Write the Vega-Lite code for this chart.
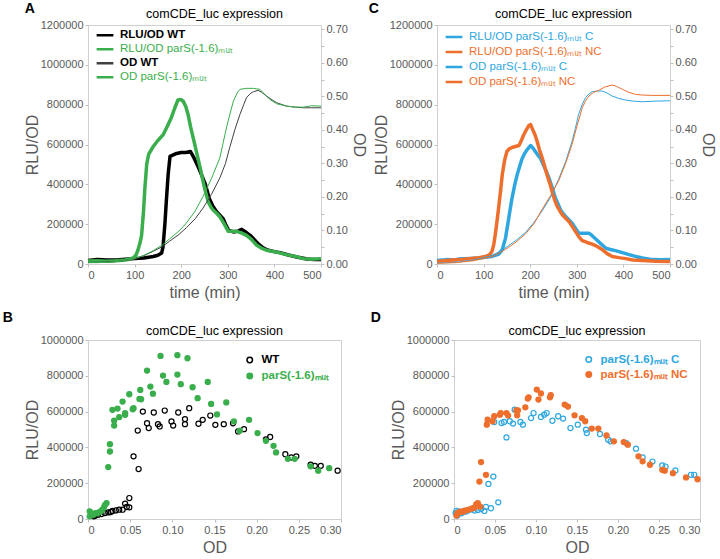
{
  "$schema": "https://vega.github.io/schema/vega-lite/v6.json",
  "padding": {"left": 2, "top": 2, "right": 0, "bottom": 2},
  "config": {
    "font": "Liberation Sans",
    "view": {"stroke": "#d0d0d0", "strokeWidth": 1},
    "axis": {"grid": false, "domain": false, "labelColor": "#595959", "labelFontSize": 11, "titleColor": "#595959", "titleFontSize": 16, "titleFontWeight": "normal", "tickColor": "#bfbfbf", "tickSize": 3, "labelPadding": 2, "titlePadding": 4},
    "axisLeft": {"titlePadding": 0},
    "axisRight": {"titlePadding": 3},
    "title": {"fontSize": 12.5, "fontWeight": "normal", "color": "#000000", "offset": -1, "frame": "group"},
    "legend": {"padding": 0, "title": null, "labelFontSize": 11.5}
  },
  "resolve": {"scale": {"color": "independent", "stroke": "independent", "fill": "independent"}, "legend": {"color": "independent", "stroke": "independent", "fill": "independent"}},
  "datasets": {
    "aR": [
      {"s": "RLU/OD  WT", "t": 0, "v": 18000}, {"s": "RLU/OD  WT", "t": 20, "v": 22000}, {"s": "RLU/OD  WT", "t": 40, "v": 20000}, {"s": "RLU/OD  WT", "t": 60, "v": 20000}, {"s": "RLU/OD  WT", "t": 80, "v": 24000}, {"s": "RLU/OD  WT", "t": 100, "v": 27000}, {"s": "RLU/OD  WT", "t": 120, "v": 30000}, {"s": "RLU/OD  WT", "t": 140, "v": 38000}, {"s": "RLU/OD  WT", "t": 150, "v": 44000}, {"s": "RLU/OD  WT", "t": 158, "v": 55000}, {"s": "RLU/OD  WT", "t": 161, "v": 86000}, {"s": "RLU/OD  WT", "t": 165, "v": 200000}, {"s": "RLU/OD  WT", "t": 168, "v": 312000}, {"s": "RLU/OD  WT", "t": 172, "v": 450000}, {"s": "RLU/OD  WT", "t": 176, "v": 540000}, {"s": "RLU/OD  WT", "t": 190, "v": 555000}, {"s": "RLU/OD  WT", "t": 200, "v": 560000}, {"s": "RLU/OD  WT", "t": 210, "v": 560000}, {"s": "RLU/OD  WT", "t": 220, "v": 565000}, {"s": "RLU/OD  WT", "t": 228, "v": 530000}, {"s": "RLU/OD  WT", "t": 235, "v": 495000}, {"s": "RLU/OD  WT", "t": 245, "v": 440000}, {"s": "RLU/OD  WT", "t": 252, "v": 400000}, {"s": "RLU/OD  WT", "t": 260, "v": 330000}, {"s": "RLU/OD  WT", "t": 268, "v": 290000}, {"s": "RLU/OD  WT", "t": 276, "v": 262000}, {"s": "RLU/OD  WT", "t": 283, "v": 245000}, {"s": "RLU/OD  WT", "t": 290, "v": 228000}, {"s": "RLU/OD  WT", "t": 296, "v": 195000}, {"s": "RLU/OD  WT", "t": 302, "v": 168000}, {"s": "RLU/OD  WT", "t": 312, "v": 161000}, {"s": "RLU/OD  WT", "t": 322, "v": 165000}, {"s": "RLU/OD  WT", "t": 330, "v": 174000}, {"s": "RLU/OD  WT", "t": 340, "v": 158000}, {"s": "RLU/OD  WT", "t": 348, "v": 144000}, {"s": "RLU/OD  WT", "t": 358, "v": 120000}, {"s": "RLU/OD  WT", "t": 366, "v": 100000}, {"s": "RLU/OD  WT", "t": 375, "v": 82000}, {"s": "RLU/OD  WT", "t": 385, "v": 70000}, {"s": "RLU/OD  WT", "t": 400, "v": 62000}, {"s": "RLU/OD  WT", "t": 412, "v": 57000}, {"s": "RLU/OD  WT", "t": 430, "v": 45000}, {"s": "RLU/OD  WT", "t": 448, "v": 35000}, {"s": "RLU/OD  WT", "t": 470, "v": 25000}, {"s": "RLU/OD  WT", "t": 485, "v": 22000}, {"s": "RLU/OD  WT", "t": 500, "v": 23000},
      {"s": "RLU/OD  parS(-1.6)ₘᵤₜ", "t": 0, "v": 15000}, {"s": "RLU/OD  parS(-1.6)ₘᵤₜ", "t": 20, "v": 16000}, {"s": "RLU/OD  parS(-1.6)ₘᵤₜ", "t": 40, "v": 14000}, {"s": "RLU/OD  parS(-1.6)ₘᵤₜ", "t": 60, "v": 16000}, {"s": "RLU/OD  parS(-1.6)ₘᵤₜ", "t": 80, "v": 20000}, {"s": "RLU/OD  parS(-1.6)ₘᵤₜ", "t": 90, "v": 25000}, {"s": "RLU/OD  parS(-1.6)ₘᵤₜ", "t": 97, "v": 30000}, {"s": "RLU/OD  parS(-1.6)ₘᵤₜ", "t": 103, "v": 45000}, {"s": "RLU/OD  parS(-1.6)ₘᵤₜ", "t": 107, "v": 69000}, {"s": "RLU/OD  parS(-1.6)ₘᵤₜ", "t": 111, "v": 100000}, {"s": "RLU/OD  parS(-1.6)ₘᵤₜ", "t": 115, "v": 144000}, {"s": "RLU/OD  parS(-1.6)ₘᵤₜ", "t": 119, "v": 260000}, {"s": "RLU/OD  parS(-1.6)ₘᵤₜ", "t": 122, "v": 379000}, {"s": "RLU/OD  parS(-1.6)ₘᵤₜ", "t": 126, "v": 500000}, {"s": "RLU/OD  parS(-1.6)ₘᵤₜ", "t": 130, "v": 550000}, {"s": "RLU/OD  parS(-1.6)ₘᵤₜ", "t": 140, "v": 590000}, {"s": "RLU/OD  parS(-1.6)ₘᵤₜ", "t": 150, "v": 620000}, {"s": "RLU/OD  parS(-1.6)ₘᵤₜ", "t": 161, "v": 648000}, {"s": "RLU/OD  parS(-1.6)ₘᵤₜ", "t": 170, "v": 690000}, {"s": "RLU/OD  parS(-1.6)ₘᵤₜ", "t": 178, "v": 730000}, {"s": "RLU/OD  parS(-1.6)ₘᵤₜ", "t": 186, "v": 782000}, {"s": "RLU/OD  parS(-1.6)ₘᵤₜ", "t": 193, "v": 824000}, {"s": "RLU/OD  parS(-1.6)ₘᵤₜ", "t": 199, "v": 826000}, {"s": "RLU/OD  parS(-1.6)ₘᵤₜ", "t": 204, "v": 819000}, {"s": "RLU/OD  parS(-1.6)ₘᵤₜ", "t": 210, "v": 790000}, {"s": "RLU/OD  parS(-1.6)ₘᵤₜ", "t": 215, "v": 748000}, {"s": "RLU/OD  parS(-1.6)ₘᵤₜ", "t": 220, "v": 690000}, {"s": "RLU/OD  parS(-1.6)ₘᵤₜ", "t": 226, "v": 631000}, {"s": "RLU/OD  parS(-1.6)ₘᵤₜ", "t": 231, "v": 580000}, {"s": "RLU/OD  parS(-1.6)ₘᵤₜ", "t": 236, "v": 530000}, {"s": "RLU/OD  parS(-1.6)ₘᵤₜ", "t": 242, "v": 470000}, {"s": "RLU/OD  parS(-1.6)ₘᵤₜ", "t": 247, "v": 413000}, {"s": "RLU/OD  parS(-1.6)ₘᵤₜ", "t": 252, "v": 365000}, {"s": "RLU/OD  parS(-1.6)ₘᵤₜ", "t": 258, "v": 312000}, {"s": "RLU/OD  parS(-1.6)ₘᵤₜ", "t": 264, "v": 285000}, {"s": "RLU/OD  parS(-1.6)ₘᵤₜ", "t": 269, "v": 270000}, {"s": "RLU/OD  parS(-1.6)ₘᵤₜ", "t": 276, "v": 255000}, {"s": "RLU/OD  parS(-1.6)ₘᵤₜ", "t": 283, "v": 237000}, {"s": "RLU/OD  parS(-1.6)ₘᵤₜ", "t": 290, "v": 210000}, {"s": "RLU/OD  parS(-1.6)ₘᵤₜ", "t": 296, "v": 185000}, {"s": "RLU/OD  parS(-1.6)ₘᵤₜ", "t": 301, "v": 164000}, {"s": "RLU/OD  parS(-1.6)ₘᵤₜ", "t": 310, "v": 165000}, {"s": "RLU/OD  parS(-1.6)ₘᵤₜ", "t": 319, "v": 164000}, {"s": "RLU/OD  parS(-1.6)ₘᵤₜ", "t": 330, "v": 155000}, {"s": "RLU/OD  parS(-1.6)ₘᵤₜ", "t": 340, "v": 144000}, {"s": "RLU/OD  parS(-1.6)ₘᵤₜ", "t": 350, "v": 125000}, {"s": "RLU/OD  parS(-1.6)ₘᵤₜ", "t": 362, "v": 94000}, {"s": "RLU/OD  parS(-1.6)ₘᵤₜ", "t": 372, "v": 80000}, {"s": "RLU/OD  parS(-1.6)ₘᵤₜ", "t": 383, "v": 69000}, {"s": "RLU/OD  parS(-1.6)ₘᵤₜ", "t": 400, "v": 62000}, {"s": "RLU/OD  parS(-1.6)ₘᵤₜ", "t": 426, "v": 47000}, {"s": "RLU/OD  parS(-1.6)ₘᵤₜ", "t": 445, "v": 38000}, {"s": "RLU/OD  parS(-1.6)ₘᵤₜ", "t": 462, "v": 27000}, {"s": "RLU/OD  parS(-1.6)ₘᵤₜ", "t": 480, "v": 24000}, {"s": "RLU/OD  parS(-1.6)ₘᵤₜ", "t": 500, "v": 27000}
    ],
    "aO": [
      {"s": "OD  WT", "t": 0, "v": 0.005}, {"s": "OD  WT", "t": 20, "v": 0.005}, {"s": "OD  WT", "t": 40, "v": 0.006}, {"s": "OD  WT", "t": 68, "v": 0.008}, {"s": "OD  WT", "t": 100, "v": 0.015}, {"s": "OD  WT", "t": 120, "v": 0.025}, {"s": "OD  WT", "t": 140, "v": 0.038}, {"s": "OD  WT", "t": 160, "v": 0.052}, {"s": "OD  WT", "t": 175, "v": 0.068}, {"s": "OD  WT", "t": 195, "v": 0.088}, {"s": "OD  WT", "t": 211, "v": 0.108}, {"s": "OD  WT", "t": 230, "v": 0.135}, {"s": "OD  WT", "t": 247, "v": 0.167}, {"s": "OD  WT", "t": 265, "v": 0.208}, {"s": "OD  WT", "t": 283, "v": 0.257}, {"s": "OD  WT", "t": 295, "v": 0.3}, {"s": "OD  WT", "t": 304, "v": 0.347}, {"s": "OD  WT", "t": 315, "v": 0.4}, {"s": "OD  WT", "t": 326, "v": 0.446}, {"s": "OD  WT", "t": 334, "v": 0.475}, {"s": "OD  WT", "t": 340, "v": 0.496}, {"s": "OD  WT", "t": 348, "v": 0.508}, {"s": "OD  WT", "t": 355, "v": 0.514}, {"s": "OD  WT", "t": 365, "v": 0.518}, {"s": "OD  WT", "t": 372, "v": 0.513}, {"s": "OD  WT", "t": 383, "v": 0.501}, {"s": "OD  WT", "t": 395, "v": 0.49}, {"s": "OD  WT", "t": 405, "v": 0.481}, {"s": "OD  WT", "t": 426, "v": 0.471}, {"s": "OD  WT", "t": 445, "v": 0.468}, {"s": "OD  WT", "t": 462, "v": 0.466}, {"s": "OD  WT", "t": 480, "v": 0.466}, {"s": "OD  WT", "t": 500, "v": 0.466},
      {"s": "OD  parS(-1.6)ₘᵤₜ", "t": 0, "v": 0.004}, {"s": "OD  parS(-1.6)ₘᵤₜ", "t": 20, "v": 0.004}, {"s": "OD  parS(-1.6)ₘᵤₜ", "t": 40, "v": 0.005}, {"s": "OD  parS(-1.6)ₘᵤₜ", "t": 68, "v": 0.008}, {"s": "OD  parS(-1.6)ₘᵤₜ", "t": 100, "v": 0.016}, {"s": "OD  parS(-1.6)ₘᵤₜ", "t": 120, "v": 0.026}, {"s": "OD  parS(-1.6)ₘᵤₜ", "t": 140, "v": 0.04}, {"s": "OD  parS(-1.6)ₘᵤₜ", "t": 160, "v": 0.057}, {"s": "OD  parS(-1.6)ₘᵤₜ", "t": 175, "v": 0.075}, {"s": "OD  parS(-1.6)ₘᵤₜ", "t": 195, "v": 0.098}, {"s": "OD  parS(-1.6)ₘᵤₜ", "t": 211, "v": 0.122}, {"s": "OD  parS(-1.6)ₘᵤₜ", "t": 230, "v": 0.158}, {"s": "OD  parS(-1.6)ₘᵤₜ", "t": 247, "v": 0.202}, {"s": "OD  parS(-1.6)ₘᵤₜ", "t": 265, "v": 0.255}, {"s": "OD  parS(-1.6)ₘᵤₜ", "t": 283, "v": 0.317}, {"s": "OD  parS(-1.6)ₘᵤₜ", "t": 297, "v": 0.406}, {"s": "OD  parS(-1.6)ₘᵤₜ", "t": 305, "v": 0.45}, {"s": "OD  parS(-1.6)ₘᵤₜ", "t": 312, "v": 0.486}, {"s": "OD  parS(-1.6)ₘᵤₜ", "t": 320, "v": 0.51}, {"s": "OD  parS(-1.6)ₘᵤₜ", "t": 326, "v": 0.521}, {"s": "OD  parS(-1.6)ₘᵤₜ", "t": 340, "v": 0.524}, {"s": "OD  parS(-1.6)ₘᵤₜ", "t": 355, "v": 0.524}, {"s": "OD  parS(-1.6)ₘᵤₜ", "t": 369, "v": 0.521}, {"s": "OD  parS(-1.6)ₘᵤₜ", "t": 380, "v": 0.505}, {"s": "OD  parS(-1.6)ₘᵤₜ", "t": 390, "v": 0.491}, {"s": "OD  parS(-1.6)ₘᵤₜ", "t": 405, "v": 0.478}, {"s": "OD  parS(-1.6)ₘᵤₜ", "t": 426, "v": 0.471}, {"s": "OD  parS(-1.6)ₘᵤₜ", "t": 445, "v": 0.468}, {"s": "OD  parS(-1.6)ₘᵤₜ", "t": 462, "v": 0.468}, {"s": "OD  parS(-1.6)ₘᵤₜ", "t": 480, "v": 0.472}, {"s": "OD  parS(-1.6)ₘᵤₜ", "t": 500, "v": 0.471}
    ],
    "cR": [
      {"s": "RLU/OD  parS(-1.6)ₘᵤₜ C", "t": 0, "v": 17000}, {"s": "RLU/OD  parS(-1.6)ₘᵤₜ C", "t": 20, "v": 22000}, {"s": "RLU/OD  parS(-1.6)ₘᵤₜ C", "t": 40, "v": 20000}, {"s": "RLU/OD  parS(-1.6)ₘᵤₜ C", "t": 47, "v": 25000}, {"s": "RLU/OD  parS(-1.6)ₘᵤₜ C", "t": 70, "v": 28000}, {"s": "RLU/OD  parS(-1.6)ₘᵤₜ C", "t": 90, "v": 30000}, {"s": "RLU/OD  parS(-1.6)ₘᵤₜ C", "t": 118, "v": 38000}, {"s": "RLU/OD  parS(-1.6)ₘᵤₜ C", "t": 133, "v": 50000}, {"s": "RLU/OD  parS(-1.6)ₘᵤₜ C", "t": 140, "v": 72000}, {"s": "RLU/OD  parS(-1.6)ₘᵤₜ C", "t": 147, "v": 130000}, {"s": "RLU/OD  parS(-1.6)ₘᵤₜ C", "t": 154, "v": 231000}, {"s": "RLU/OD  parS(-1.6)ₘᵤₜ C", "t": 161, "v": 331000}, {"s": "RLU/OD  parS(-1.6)ₘᵤₜ C", "t": 167, "v": 400000}, {"s": "RLU/OD  parS(-1.6)ₘᵤₜ C", "t": 172, "v": 448000}, {"s": "RLU/OD  parS(-1.6)ₘᵤₜ C", "t": 178, "v": 495000}, {"s": "RLU/OD  parS(-1.6)ₘᵤₜ C", "t": 183, "v": 531000}, {"s": "RLU/OD  parS(-1.6)ₘᵤₜ C", "t": 188, "v": 555000}, {"s": "RLU/OD  parS(-1.6)ₘᵤₜ C", "t": 193, "v": 573000}, {"s": "RLU/OD  parS(-1.6)ₘᵤₜ C", "t": 201, "v": 595000}, {"s": "RLU/OD  parS(-1.6)ₘᵤₜ C", "t": 206, "v": 582000}, {"s": "RLU/OD  parS(-1.6)ₘᵤₜ C", "t": 211, "v": 565000}, {"s": "RLU/OD  parS(-1.6)ₘᵤₜ C", "t": 216, "v": 548000}, {"s": "RLU/OD  parS(-1.6)ₘᵤₜ C", "t": 222, "v": 531000}, {"s": "RLU/OD  parS(-1.6)ₘᵤₜ C", "t": 228, "v": 500000}, {"s": "RLU/OD  parS(-1.6)ₘᵤₜ C", "t": 233, "v": 473000}, {"s": "RLU/OD  parS(-1.6)ₘᵤₜ C", "t": 239, "v": 440000}, {"s": "RLU/OD  parS(-1.6)ₘᵤₜ C", "t": 244, "v": 406000}, {"s": "RLU/OD  parS(-1.6)ₘᵤₜ C", "t": 249, "v": 370000}, {"s": "RLU/OD  parS(-1.6)ₘᵤₜ C", "t": 254, "v": 331000}, {"s": "RLU/OD  parS(-1.6)ₘᵤₜ C", "t": 260, "v": 300000}, {"s": "RLU/OD  parS(-1.6)ₘᵤₜ C", "t": 265, "v": 272000}, {"s": "RLU/OD  parS(-1.6)ₘᵤₜ C", "t": 270, "v": 255000}, {"s": "RLU/OD  parS(-1.6)ₘᵤₜ C", "t": 276, "v": 239000}, {"s": "RLU/OD  parS(-1.6)ₘᵤₜ C", "t": 283, "v": 222000}, {"s": "RLU/OD  parS(-1.6)ₘᵤₜ C", "t": 290, "v": 205000}, {"s": "RLU/OD  parS(-1.6)ₘᵤₜ C", "t": 297, "v": 180000}, {"s": "RLU/OD  parS(-1.6)ₘᵤₜ C", "t": 304, "v": 155000}, {"s": "RLU/OD  parS(-1.6)ₘᵤₜ C", "t": 315, "v": 155000}, {"s": "RLU/OD  parS(-1.6)ₘᵤₜ C", "t": 326, "v": 155000}, {"s": "RLU/OD  parS(-1.6)ₘᵤₜ C", "t": 333, "v": 142000}, {"s": "RLU/OD  parS(-1.6)ₘᵤₜ C", "t": 340, "v": 127000}, {"s": "RLU/OD  parS(-1.6)ₘᵤₜ C", "t": 350, "v": 105000}, {"s": "RLU/OD  parS(-1.6)ₘᵤₜ C", "t": 362, "v": 80000}, {"s": "RLU/OD  parS(-1.6)ₘᵤₜ C", "t": 372, "v": 73000}, {"s": "RLU/OD  parS(-1.6)ₘᵤₜ C", "t": 383, "v": 67000}, {"s": "RLU/OD  parS(-1.6)ₘᵤₜ C", "t": 398, "v": 57000}, {"s": "RLU/OD  parS(-1.6)ₘᵤₜ C", "t": 412, "v": 47000}, {"s": "RLU/OD  parS(-1.6)ₘᵤₜ C", "t": 426, "v": 38000}, {"s": "RLU/OD  parS(-1.6)ₘᵤₜ C", "t": 441, "v": 30000}, {"s": "RLU/OD  parS(-1.6)ₘᵤₜ C", "t": 462, "v": 22000}, {"s": "RLU/OD  parS(-1.6)ₘᵤₜ C", "t": 480, "v": 21000}, {"s": "RLU/OD  parS(-1.6)ₘᵤₜ C", "t": 500, "v": 22000},
      {"s": "RLU/OD  parS(-1.6)ₘᵤₜ NC", "t": 0, "v": 13000}, {"s": "RLU/OD  parS(-1.6)ₘᵤₜ NC", "t": 20, "v": 18000}, {"s": "RLU/OD  parS(-1.6)ₘᵤₜ NC", "t": 47, "v": 22000}, {"s": "RLU/OD  parS(-1.6)ₘᵤₜ NC", "t": 70, "v": 27000}, {"s": "RLU/OD  parS(-1.6)ₘᵤₜ NC", "t": 90, "v": 32000}, {"s": "RLU/OD  parS(-1.6)ₘᵤₜ NC", "t": 104, "v": 38000}, {"s": "RLU/OD  parS(-1.6)ₘᵤₜ NC", "t": 112, "v": 45000}, {"s": "RLU/OD  parS(-1.6)ₘᵤₜ NC", "t": 118, "v": 63000}, {"s": "RLU/OD  parS(-1.6)ₘᵤₜ NC", "t": 122, "v": 100000}, {"s": "RLU/OD  parS(-1.6)ₘᵤₜ NC", "t": 125, "v": 147000}, {"s": "RLU/OD  parS(-1.6)ₘᵤₜ NC", "t": 129, "v": 220000}, {"s": "RLU/OD  parS(-1.6)ₘᵤₜ NC", "t": 133, "v": 297000}, {"s": "RLU/OD  parS(-1.6)ₘᵤₜ NC", "t": 137, "v": 380000}, {"s": "RLU/OD  parS(-1.6)ₘᵤₜ NC", "t": 140, "v": 448000}, {"s": "RLU/OD  parS(-1.6)ₘᵤₜ NC", "t": 145, "v": 520000}, {"s": "RLU/OD  parS(-1.6)ₘᵤₜ NC", "t": 150, "v": 565000}, {"s": "RLU/OD  parS(-1.6)ₘᵤₜ NC", "t": 155, "v": 578000}, {"s": "RLU/OD  parS(-1.6)ₘᵤₜ NC", "t": 161, "v": 585000}, {"s": "RLU/OD  parS(-1.6)ₘᵤₜ NC", "t": 168, "v": 590000}, {"s": "RLU/OD  parS(-1.6)ₘᵤₜ NC", "t": 176, "v": 595000}, {"s": "RLU/OD  parS(-1.6)ₘᵤₜ NC", "t": 181, "v": 620000}, {"s": "RLU/OD  parS(-1.6)ₘᵤₜ NC", "t": 186, "v": 648000}, {"s": "RLU/OD  parS(-1.6)ₘᵤₜ NC", "t": 192, "v": 675000}, {"s": "RLU/OD  parS(-1.6)ₘᵤₜ NC", "t": 197, "v": 695000}, {"s": "RLU/OD  parS(-1.6)ₘᵤₜ NC", "t": 201, "v": 700000}, {"s": "RLU/OD  parS(-1.6)ₘᵤₜ NC", "t": 204, "v": 682000}, {"s": "RLU/OD  parS(-1.6)ₘᵤₜ NC", "t": 210, "v": 650000}, {"s": "RLU/OD  parS(-1.6)ₘᵤₜ NC", "t": 215, "v": 615000}, {"s": "RLU/OD  parS(-1.6)ₘᵤₜ NC", "t": 220, "v": 572000}, {"s": "RLU/OD  parS(-1.6)ₘᵤₜ NC", "t": 226, "v": 531000}, {"s": "RLU/OD  parS(-1.6)ₘᵤₜ NC", "t": 231, "v": 490000}, {"s": "RLU/OD  parS(-1.6)ₘᵤₜ NC", "t": 236, "v": 448000}, {"s": "RLU/OD  parS(-1.6)ₘᵤₜ NC", "t": 242, "v": 405000}, {"s": "RLU/OD  parS(-1.6)ₘᵤₜ NC", "t": 247, "v": 364000}, {"s": "RLU/OD  parS(-1.6)ₘᵤₜ NC", "t": 252, "v": 325000}, {"s": "RLU/OD  parS(-1.6)ₘᵤₜ NC", "t": 258, "v": 289000}, {"s": "RLU/OD  parS(-1.6)ₘᵤₜ NC", "t": 264, "v": 265000}, {"s": "RLU/OD  parS(-1.6)ₘᵤₜ NC", "t": 269, "v": 247000}, {"s": "RLU/OD  parS(-1.6)ₘᵤₜ NC", "t": 276, "v": 230000}, {"s": "RLU/OD  parS(-1.6)ₘᵤₜ NC", "t": 283, "v": 214000}, {"s": "RLU/OD  parS(-1.6)ₘᵤₜ NC", "t": 290, "v": 190000}, {"s": "RLU/OD  parS(-1.6)ₘᵤₜ NC", "t": 297, "v": 164000}, {"s": "RLU/OD  parS(-1.6)ₘᵤₜ NC", "t": 305, "v": 135000}, {"s": "RLU/OD  parS(-1.6)ₘᵤₜ NC", "t": 312, "v": 117000}, {"s": "RLU/OD  parS(-1.6)ₘᵤₜ NC", "t": 322, "v": 108000}, {"s": "RLU/OD  parS(-1.6)ₘᵤₜ NC", "t": 333, "v": 100000}, {"s": "RLU/OD  parS(-1.6)ₘᵤₜ NC", "t": 344, "v": 88000}, {"s": "RLU/OD  parS(-1.6)ₘᵤₜ NC", "t": 355, "v": 72000}, {"s": "RLU/OD  parS(-1.6)ₘᵤₜ NC", "t": 365, "v": 52000}, {"s": "RLU/OD  parS(-1.6)ₘᵤₜ NC", "t": 376, "v": 38000}, {"s": "RLU/OD  parS(-1.6)ₘᵤₜ NC", "t": 390, "v": 32000}, {"s": "RLU/OD  parS(-1.6)ₘᵤₜ NC", "t": 405, "v": 27000}, {"s": "RLU/OD  parS(-1.6)ₘᵤₜ NC", "t": 420, "v": 20000}, {"s": "RLU/OD  parS(-1.6)ₘᵤₜ NC", "t": 441, "v": 17000}, {"s": "RLU/OD  parS(-1.6)ₘᵤₜ NC", "t": 470, "v": 14000}, {"s": "RLU/OD  parS(-1.6)ₘᵤₜ NC", "t": 500, "v": 13000}
    ],
    "cO": [
      {"s": "OD  parS(-1.6)ₘᵤₜ C", "t": 0, "v": 0.003}, {"s": "OD  parS(-1.6)ₘᵤₜ C", "t": 40, "v": 0.005}, {"s": "OD  parS(-1.6)ₘᵤₜ C", "t": 80, "v": 0.012}, {"s": "OD  parS(-1.6)ₘᵤₜ C", "t": 118, "v": 0.025}, {"s": "OD  parS(-1.6)ₘᵤₜ C", "t": 135, "v": 0.038}, {"s": "OD  parS(-1.6)ₘᵤₜ C", "t": 154, "v": 0.055}, {"s": "OD  parS(-1.6)ₘᵤₜ C", "t": 172, "v": 0.073}, {"s": "OD  parS(-1.6)ₘᵤₜ C", "t": 190, "v": 0.094}, {"s": "OD  parS(-1.6)ₘᵤₜ C", "t": 208, "v": 0.124}, {"s": "OD  parS(-1.6)ₘᵤₜ C", "t": 226, "v": 0.159}, {"s": "OD  parS(-1.6)ₘᵤₜ C", "t": 244, "v": 0.2}, {"s": "OD  parS(-1.6)ₘᵤₜ C", "t": 261, "v": 0.253}, {"s": "OD  parS(-1.6)ₘᵤₜ C", "t": 276, "v": 0.305}, {"s": "OD  parS(-1.6)ₘᵤₜ C", "t": 290, "v": 0.367}, {"s": "OD  parS(-1.6)ₘᵤₜ C", "t": 297, "v": 0.405}, {"s": "OD  parS(-1.6)ₘᵤₜ C", "t": 304, "v": 0.447}, {"s": "OD  parS(-1.6)ₘᵤₜ C", "t": 312, "v": 0.477}, {"s": "OD  parS(-1.6)ₘᵤₜ C", "t": 319, "v": 0.497}, {"s": "OD  parS(-1.6)ₘᵤₜ C", "t": 326, "v": 0.507}, {"s": "OD  parS(-1.6)ₘᵤₜ C", "t": 333, "v": 0.514}, {"s": "OD  parS(-1.6)ₘᵤₜ C", "t": 345, "v": 0.516}, {"s": "OD  parS(-1.6)ₘᵤₜ C", "t": 355, "v": 0.516}, {"s": "OD  parS(-1.6)ₘᵤₜ C", "t": 365, "v": 0.51}, {"s": "OD  parS(-1.6)ₘᵤₜ C", "t": 376, "v": 0.501}, {"s": "OD  parS(-1.6)ₘᵤₜ C", "t": 390, "v": 0.494}, {"s": "OD  parS(-1.6)ₘᵤₜ C", "t": 405, "v": 0.489}, {"s": "OD  parS(-1.6)ₘᵤₜ C", "t": 420, "v": 0.486}, {"s": "OD  parS(-1.6)ₘᵤₜ C", "t": 441, "v": 0.484}, {"s": "OD  parS(-1.6)ₘᵤₜ C", "t": 470, "v": 0.486}, {"s": "OD  parS(-1.6)ₘᵤₜ C", "t": 500, "v": 0.487},
      {"s": "OD  parS(-1.6)ₘᵤₜ NC", "t": 0, "v": 0.002}, {"s": "OD  parS(-1.6)ₘᵤₜ NC", "t": 40, "v": 0.004}, {"s": "OD  parS(-1.6)ₘᵤₜ NC", "t": 80, "v": 0.01}, {"s": "OD  parS(-1.6)ₘᵤₜ NC", "t": 118, "v": 0.022}, {"s": "OD  parS(-1.6)ₘᵤₜ NC", "t": 135, "v": 0.034}, {"s": "OD  parS(-1.6)ₘᵤₜ NC", "t": 154, "v": 0.05}, {"s": "OD  parS(-1.6)ₘᵤₜ NC", "t": 172, "v": 0.068}, {"s": "OD  parS(-1.6)ₘᵤₜ NC", "t": 190, "v": 0.09}, {"s": "OD  parS(-1.6)ₘᵤₜ NC", "t": 208, "v": 0.12}, {"s": "OD  parS(-1.6)ₘᵤₜ NC", "t": 226, "v": 0.164}, {"s": "OD  parS(-1.6)ₘᵤₜ NC", "t": 244, "v": 0.205}, {"s": "OD  parS(-1.6)ₘᵤₜ NC", "t": 261, "v": 0.248}, {"s": "OD  parS(-1.6)ₘᵤₜ NC", "t": 276, "v": 0.3}, {"s": "OD  parS(-1.6)ₘᵤₜ NC", "t": 290, "v": 0.358}, {"s": "OD  parS(-1.6)ₘᵤₜ NC", "t": 300, "v": 0.41}, {"s": "OD  parS(-1.6)ₘᵤₜ NC", "t": 312, "v": 0.467}, {"s": "OD  parS(-1.6)ₘᵤₜ NC", "t": 319, "v": 0.487}, {"s": "OD  parS(-1.6)ₘᵤₜ NC", "t": 326, "v": 0.501}, {"s": "OD  parS(-1.6)ₘᵤₜ NC", "t": 336, "v": 0.512}, {"s": "OD  parS(-1.6)ₘᵤₜ NC", "t": 347, "v": 0.518}, {"s": "OD  parS(-1.6)ₘᵤₜ NC", "t": 360, "v": 0.528}, {"s": "OD  parS(-1.6)ₘᵤₜ NC", "t": 376, "v": 0.534}, {"s": "OD  parS(-1.6)ₘᵤₜ NC", "t": 385, "v": 0.53}, {"s": "OD  parS(-1.6)ₘᵤₜ NC", "t": 398, "v": 0.521}, {"s": "OD  parS(-1.6)ₘᵤₜ NC", "t": 412, "v": 0.512}, {"s": "OD  parS(-1.6)ₘᵤₜ NC", "t": 426, "v": 0.506}, {"s": "OD  parS(-1.6)ₘᵤₜ NC", "t": 441, "v": 0.504}, {"s": "OD  parS(-1.6)ₘᵤₜ NC", "t": 462, "v": 0.503}, {"s": "OD  parS(-1.6)ₘᵤₜ NC", "t": 500, "v": 0.503}
    ],
    "b": [
      {"s": "WT", "od": 0.007, "v": 15000}, {"s": "WT", "od": 0.009, "v": 19000}, {"s": "WT", "od": 0.012, "v": 24000}, {"s": "WT", "od": 0.016, "v": 28000}, {"s": "WT", "od": 0.02, "v": 33000}, {"s": "WT", "od": 0.024, "v": 37000}, {"s": "WT", "od": 0.027, "v": 39000}, {"s": "WT", "od": 0.029, "v": 45000}, {"s": "WT", "od": 0.033, "v": 48000}, {"s": "WT", "od": 0.037, "v": 52000}, {"s": "WT", "od": 0.041, "v": 52000}, {"s": "WT", "od": 0.044, "v": 86000}, {"s": "WT", "od": 0.046, "v": 67000}, {"s": "WT", "od": 0.049, "v": 117000}, {"s": "WT", "od": 0.049, "v": 65000}, {"s": "WT", "od": 0.054, "v": 350000}, {"s": "WT", "od": 0.06, "v": 279000}, {"s": "WT", "od": 0.059, "v": 494000}, {"s": "WT", "od": 0.065, "v": 600000}, {"s": "WT", "od": 0.07, "v": 535000}, {"s": "WT", "od": 0.072, "v": 508000}, {"s": "WT", "od": 0.078, "v": 595000}, {"s": "WT", "od": 0.083, "v": 530000}, {"s": "WT", "od": 0.085, "v": 517000}, {"s": "WT", "od": 0.091, "v": 606000}, {"s": "WT", "od": 0.099, "v": 545000}, {"s": "WT", "od": 0.101, "v": 522000}, {"s": "WT", "od": 0.107, "v": 595000}, {"s": "WT", "od": 0.115, "v": 558000}, {"s": "WT", "od": 0.115, "v": 530000}, {"s": "WT", "od": 0.12, "v": 619000}, {"s": "WT", "od": 0.131, "v": 532000}, {"s": "WT", "od": 0.136, "v": 554000}, {"s": "WT", "od": 0.145, "v": 578000}, {"s": "WT", "od": 0.151, "v": 526000}, {"s": "WT", "od": 0.161, "v": 530000}, {"s": "WT", "od": 0.172, "v": 535000}, {"s": "WT", "od": 0.178, "v": 489000}, {"s": "WT", "od": 0.185, "v": 502000}, {"s": "WT", "od": 0.211, "v": 445000}, {"s": "WT", "od": 0.216, "v": 458000}, {"s": "WT", "od": 0.234, "v": 362000}, {"s": "WT", "od": 0.241, "v": 344000}, {"s": "WT", "od": 0.247, "v": 350000}, {"s": "WT", "od": 0.264, "v": 303000}, {"s": "WT", "od": 0.269, "v": 297000}, {"s": "WT", "od": 0.276, "v": 297000}, {"s": "WT", "od": 0.296, "v": 270000},
      {"s": "parS(-1.6)ₘᵤₜ", "od": 0.002, "v": 43000}, {"s": "parS(-1.6)ₘᵤₜ", "od": 0.002, "v": 15000}, {"s": "parS(-1.6)ₘᵤₜ", "od": 0.004, "v": 30000}, {"s": "parS(-1.6)ₘᵤₜ", "od": 0.006, "v": 24000}, {"s": "parS(-1.6)ₘᵤₜ", "od": 0.007, "v": 28000}, {"s": "parS(-1.6)ₘᵤₜ", "od": 0.009, "v": 33000}, {"s": "parS(-1.6)ₘᵤₜ", "od": 0.011, "v": 32000}, {"s": "parS(-1.6)ₘᵤₜ", "od": 0.013, "v": 37000}, {"s": "parS(-1.6)ₘᵤₜ", "od": 0.015, "v": 43000}, {"s": "parS(-1.6)ₘᵤₜ", "od": 0.017, "v": 52000}, {"s": "parS(-1.6)ₘᵤₜ", "od": 0.019, "v": 65000}, {"s": "parS(-1.6)ₘᵤₜ", "od": 0.02, "v": 78000}, {"s": "parS(-1.6)ₘᵤₜ", "od": 0.022, "v": 89000}, {"s": "parS(-1.6)ₘᵤₜ", "od": 0.024, "v": 290000}, {"s": "parS(-1.6)ₘᵤₜ", "od": 0.026, "v": 418000}, {"s": "parS(-1.6)ₘᵤₜ", "od": 0.026, "v": 377000}, {"s": "parS(-1.6)ₘᵤₜ", "od": 0.029, "v": 610000}, {"s": "parS(-1.6)ₘᵤₜ", "od": 0.031, "v": 550000}, {"s": "parS(-1.6)ₘᵤₜ", "od": 0.031, "v": 522000}, {"s": "parS(-1.6)ₘᵤₜ", "od": 0.035, "v": 617000}, {"s": "parS(-1.6)ₘᵤₜ", "od": 0.037, "v": 569000}, {"s": "parS(-1.6)ₘᵤₜ", "od": 0.041, "v": 656000}, {"s": "parS(-1.6)ₘᵤₜ", "od": 0.044, "v": 591000}, {"s": "parS(-1.6)ₘᵤₜ", "od": 0.044, "v": 582000}, {"s": "parS(-1.6)ₘᵤₜ", "od": 0.049, "v": 697000}, {"s": "parS(-1.6)ₘᵤₜ", "od": 0.053, "v": 613000}, {"s": "parS(-1.6)ₘᵤₜ", "od": 0.054, "v": 619000}, {"s": "parS(-1.6)ₘᵤₜ", "od": 0.061, "v": 671000}, {"s": "parS(-1.6)ₘᵤₜ", "od": 0.062, "v": 721000}, {"s": "parS(-1.6)ₘᵤₜ", "od": 0.063, "v": 669000}, {"s": "parS(-1.6)ₘᵤₜ", "od": 0.07, "v": 829000}, {"s": "parS(-1.6)ₘᵤₜ", "od": 0.074, "v": 740000}, {"s": "parS(-1.6)ₘᵤₜ", "od": 0.077, "v": 700000}, {"s": "parS(-1.6)ₘᵤₜ", "od": 0.086, "v": 911000}, {"s": "parS(-1.6)ₘᵤₜ", "od": 0.089, "v": 801000}, {"s": "parS(-1.6)ₘᵤₜ", "od": 0.093, "v": 766000}, {"s": "parS(-1.6)ₘᵤₜ", "od": 0.106, "v": 915000}, {"s": "parS(-1.6)ₘᵤₜ", "od": 0.106, "v": 807000}, {"s": "parS(-1.6)ₘᵤₜ", "od": 0.11, "v": 753000}, {"s": "parS(-1.6)ₘᵤₜ", "od": 0.118, "v": 898000}, {"s": "parS(-1.6)ₘᵤₜ", "od": 0.124, "v": 736000}, {"s": "parS(-1.6)ₘᵤₜ", "od": 0.13, "v": 675000}, {"s": "parS(-1.6)ₘᵤₜ", "od": 0.142, "v": 766000}, {"s": "parS(-1.6)ₘᵤₜ", "od": 0.146, "v": 643000}, {"s": "parS(-1.6)ₘᵤₜ", "od": 0.153, "v": 584000}, {"s": "parS(-1.6)ₘᵤₜ", "od": 0.164, "v": 651000}, {"s": "parS(-1.6)ₘᵤₜ", "od": 0.173, "v": 545000}, {"s": "parS(-1.6)ₘᵤₜ", "od": 0.18, "v": 493000}, {"s": "parS(-1.6)ₘᵤₜ", "od": 0.191, "v": 554000}, {"s": "parS(-1.6)ₘᵤₜ", "od": 0.201, "v": 480000}, {"s": "parS(-1.6)ₘᵤₜ", "od": 0.211, "v": 437000}, {"s": "parS(-1.6)ₘᵤₜ", "od": 0.22, "v": 409000}, {"s": "parS(-1.6)ₘᵤₜ", "od": 0.223, "v": 372000}, {"s": "parS(-1.6)ₘᵤₜ", "od": 0.237, "v": 336000}, {"s": "parS(-1.6)ₘᵤₜ", "od": 0.245, "v": 336000}, {"s": "parS(-1.6)ₘᵤₜ", "od": 0.264, "v": 294000}, {"s": "parS(-1.6)ₘᵤₜ", "od": 0.273, "v": 270000}, {"s": "parS(-1.6)ₘᵤₜ", "od": 0.286, "v": 284000}
    ],
    "d": [
      {"s": "parS(-1.6)ₘᵤₜ C", "od": 0.002, "v": 32000}, {"s": "parS(-1.6)ₘᵤₜ C", "od": 0.003, "v": 45000}, {"s": "parS(-1.6)ₘᵤₜ C", "od": 0.004, "v": 19000}, {"s": "parS(-1.6)ₘᵤₜ C", "od": 0.006, "v": 41000}, {"s": "parS(-1.6)ₘᵤₜ C", "od": 0.009, "v": 32000}, {"s": "parS(-1.6)ₘᵤₜ C", "od": 0.011, "v": 41000}, {"s": "parS(-1.6)ₘᵤₜ C", "od": 0.014, "v": 41000}, {"s": "parS(-1.6)ₘᵤₜ C", "od": 0.017, "v": 47000}, {"s": "parS(-1.6)ₘᵤₜ C", "od": 0.021, "v": 54000}, {"s": "parS(-1.6)ₘᵤₜ C", "od": 0.025, "v": 47000}, {"s": "parS(-1.6)ₘᵤₜ C", "od": 0.029, "v": 50000}, {"s": "parS(-1.6)ₘᵤₜ C", "od": 0.033, "v": 56000}, {"s": "parS(-1.6)ₘᵤₜ C", "od": 0.037, "v": 45000}, {"s": "parS(-1.6)ₘᵤₜ C", "od": 0.039, "v": 67000}, {"s": "parS(-1.6)ₘᵤₜ C", "od": 0.045, "v": 60000}, {"s": "parS(-1.6)ₘᵤₜ C", "od": 0.054, "v": 93000}, {"s": "parS(-1.6)ₘᵤₜ C", "od": 0.042, "v": 196000}, {"s": "parS(-1.6)ₘᵤₜ C", "od": 0.048, "v": 237000}, {"s": "parS(-1.6)ₘᵤₜ C", "od": 0.049, "v": 542000}, {"s": "parS(-1.6)ₘᵤₜ C", "od": 0.058, "v": 536000}, {"s": "parS(-1.6)ₘᵤₜ C", "od": 0.061, "v": 542000}, {"s": "parS(-1.6)ₘᵤₜ C", "od": 0.064, "v": 456000}, {"s": "parS(-1.6)ₘᵤₜ C", "od": 0.068, "v": 546000}, {"s": "parS(-1.6)ₘᵤₜ C", "od": 0.072, "v": 533000}, {"s": "parS(-1.6)ₘᵤₜ C", "od": 0.074, "v": 611000}, {"s": "parS(-1.6)ₘᵤₜ C", "od": 0.081, "v": 542000}, {"s": "parS(-1.6)ₘᵤₜ C", "od": 0.084, "v": 527000}, {"s": "parS(-1.6)ₘᵤₜ C", "od": 0.094, "v": 564000}, {"s": "parS(-1.6)ₘᵤₜ C", "od": 0.097, "v": 592000}, {"s": "parS(-1.6)ₘᵤₜ C", "od": 0.106, "v": 570000}, {"s": "parS(-1.6)ₘᵤₜ C", "od": 0.11, "v": 583000}, {"s": "parS(-1.6)ₘᵤₜ C", "od": 0.113, "v": 592000}, {"s": "parS(-1.6)ₘᵤₜ C", "od": 0.12, "v": 549000}, {"s": "parS(-1.6)ₘᵤₜ C", "od": 0.127, "v": 574000}, {"s": "parS(-1.6)ₘᵤₜ C", "od": 0.133, "v": 561000}, {"s": "parS(-1.6)ₘᵤₜ C", "od": 0.142, "v": 508000}, {"s": "parS(-1.6)ₘᵤₜ C", "od": 0.151, "v": 527000}, {"s": "parS(-1.6)ₘᵤₜ C", "od": 0.161, "v": 499000}, {"s": "parS(-1.6)ₘᵤₜ C", "od": 0.162, "v": 480000}, {"s": "parS(-1.6)ₘᵤₜ C", "od": 0.178, "v": 475000}, {"s": "parS(-1.6)ₘᵤₜ C", "od": 0.188, "v": 443000}, {"s": "parS(-1.6)ₘᵤₜ C", "od": 0.191, "v": 434000}, {"s": "parS(-1.6)ₘᵤₜ C", "od": 0.21, "v": 424000}, {"s": "parS(-1.6)ₘᵤₜ C", "od": 0.222, "v": 393000}, {"s": "parS(-1.6)ₘᵤₜ C", "od": 0.23, "v": 344000}, {"s": "parS(-1.6)ₘᵤₜ C", "od": 0.242, "v": 321000}, {"s": "parS(-1.6)ₘᵤₜ C", "od": 0.254, "v": 299000}, {"s": "parS(-1.6)ₘᵤₜ C", "od": 0.258, "v": 293000}, {"s": "parS(-1.6)ₘᵤₜ C", "od": 0.27, "v": 271000}, {"s": "parS(-1.6)ₘᵤₜ C", "od": 0.289, "v": 247000}, {"s": "parS(-1.6)ₘᵤₜ C", "od": 0.293, "v": 247000},
      {"s": "parS(-1.6)ₘᵤₜ NC", "od": 0.003, "v": 19000}, {"s": "parS(-1.6)ₘᵤₜ NC", "od": 0.004, "v": 32000}, {"s": "parS(-1.6)ₘᵤₜ NC", "od": 0.006, "v": 37000}, {"s": "parS(-1.6)ₘᵤₜ NC", "od": 0.008, "v": 41000}, {"s": "parS(-1.6)ₘᵤₜ NC", "od": 0.011, "v": 41000}, {"s": "parS(-1.6)ₘᵤₜ NC", "od": 0.013, "v": 47000}, {"s": "parS(-1.6)ₘᵤₜ NC", "od": 0.016, "v": 50000}, {"s": "parS(-1.6)ₘᵤₜ NC", "od": 0.019, "v": 54000}, {"s": "parS(-1.6)ₘᵤₜ NC", "od": 0.023, "v": 60000}, {"s": "parS(-1.6)ₘᵤₜ NC", "od": 0.025, "v": 64000}, {"s": "parS(-1.6)ₘᵤₜ NC", "od": 0.027, "v": 82000}, {"s": "parS(-1.6)ₘᵤₜ NC", "od": 0.029, "v": 88000}, {"s": "parS(-1.6)ₘᵤₜ NC", "od": 0.032, "v": 69000}, {"s": "parS(-1.6)ₘᵤₜ NC", "od": 0.031, "v": 209000}, {"s": "parS(-1.6)ₘᵤₜ NC", "od": 0.033, "v": 318000}, {"s": "parS(-1.6)ₘᵤₜ NC", "od": 0.039, "v": 247000}, {"s": "parS(-1.6)ₘᵤₜ NC", "od": 0.04, "v": 527000}, {"s": "parS(-1.6)ₘᵤₜ NC", "od": 0.041, "v": 555000}, {"s": "parS(-1.6)ₘᵤₜ NC", "od": 0.047, "v": 546000}, {"s": "parS(-1.6)ₘᵤₜ NC", "od": 0.049, "v": 574000}, {"s": "parS(-1.6)ₘᵤₜ NC", "od": 0.056, "v": 583000}, {"s": "parS(-1.6)ₘᵤₜ NC", "od": 0.057, "v": 592000}, {"s": "parS(-1.6)ₘᵤₜ NC", "od": 0.064, "v": 592000}, {"s": "parS(-1.6)ₘᵤₜ NC", "od": 0.066, "v": 578000}, {"s": "parS(-1.6)ₘᵤₜ NC", "od": 0.076, "v": 607000}, {"s": "parS(-1.6)ₘᵤₜ NC", "od": 0.078, "v": 607000}, {"s": "parS(-1.6)ₘᵤₜ NC", "od": 0.077, "v": 579000}, {"s": "parS(-1.6)ₘᵤₜ NC", "od": 0.087, "v": 624000}, {"s": "parS(-1.6)ₘᵤₜ NC", "od": 0.09, "v": 673000}, {"s": "parS(-1.6)ₘᵤₜ NC", "od": 0.091, "v": 680000}, {"s": "parS(-1.6)ₘᵤₜ NC", "od": 0.101, "v": 723000}, {"s": "parS(-1.6)ₘᵤₜ NC", "od": 0.103, "v": 667000}, {"s": "parS(-1.6)ₘᵤₜ NC", "od": 0.106, "v": 701000}, {"s": "parS(-1.6)ₘᵤₜ NC", "od": 0.117, "v": 680000}, {"s": "parS(-1.6)ₘᵤₜ NC", "od": 0.118, "v": 692000}, {"s": "parS(-1.6)ₘᵤₜ NC", "od": 0.135, "v": 639000}, {"s": "parS(-1.6)ₘᵤₜ NC", "od": 0.139, "v": 628000}, {"s": "parS(-1.6)ₘᵤₜ NC", "od": 0.147, "v": 579000}, {"s": "parS(-1.6)ₘᵤₜ NC", "od": 0.156, "v": 564000}, {"s": "parS(-1.6)ₘᵤₜ NC", "od": 0.16, "v": 546000}, {"s": "parS(-1.6)ₘᵤₜ NC", "od": 0.168, "v": 505000}, {"s": "parS(-1.6)ₘᵤₜ NC", "od": 0.176, "v": 505000}, {"s": "parS(-1.6)ₘᵤₜ NC", "od": 0.186, "v": 467000}, {"s": "parS(-1.6)ₘᵤₜ NC", "od": 0.195, "v": 434000}, {"s": "parS(-1.6)ₘᵤₜ NC", "od": 0.207, "v": 430000}, {"s": "parS(-1.6)ₘᵤₜ NC", "od": 0.212, "v": 415000}, {"s": "parS(-1.6)ₘᵤₜ NC", "od": 0.225, "v": 350000}, {"s": "parS(-1.6)ₘᵤₜ NC", "od": 0.23, "v": 322000}, {"s": "parS(-1.6)ₘᵤₜ NC", "od": 0.239, "v": 303000}, {"s": "parS(-1.6)ₘᵤₜ NC", "od": 0.254, "v": 275000}, {"s": "parS(-1.6)ₘᵤₜ NC", "od": 0.257, "v": 270000}, {"s": "parS(-1.6)ₘᵤₜ NC", "od": 0.267, "v": 256000}, {"s": "parS(-1.6)ₘᵤₜ NC", "od": 0.283, "v": 232000}, {"s": "parS(-1.6)ₘᵤₜ NC", "od": 0.297, "v": 222000}
    ]
  },
  "vconcat": [
    {
      "resolve": {"scale": {"color": "independent", "stroke": "independent", "fill": "independent"}, "legend": {"color": "independent", "stroke": "independent", "fill": "independent"}},
      "hconcat": [
        {
          "title": {"text": "A", "anchor": "start", "frame": "bounds", "fontSize": 14, "fontWeight": "bold", "offset": -9, "dx": 1},
          "resolve": {"scale": {"color": "independent"}, "legend": {"color": "independent"}},
          "vconcat": [
            {
              "width": 233, "height": 239,
              "title": {"text": "comCDE_luc expression", "dx": 10},
              "layer": [
                {
                  "data": {"name": "aR"},
                  "mark": {"type": "line", "strokeWidth": 3.5, "strokeJoin": "round"},
                  "encoding": {
                    "x": {"field": "t", "type": "quantitative", "scale": {"domain": [0, 500], "nice": false}, "axis": {"values": [0, 100, 200, 300, 400, 500], "title": "time (min)"}},
                    "y": {"field": "v", "type": "quantitative", "scale": {"domain": [0, 1200000], "nice": false}, "axis": {"values": [0, 200000, 400000, 600000, 800000, 1000000, 1200000], "format": "d", "title": "RLU/OD"}},
                    "color": {"field": "s", "type": "nominal", "scale": {"domain": ["RLU/OD  WT", "RLU/OD  parS(-1.6)ₘᵤₜ", "OD  WT", "OD  parS(-1.6)ₘᵤₜ"], "range": ["#000000", "#3aae4c", "#404040", "#3aae4c"]},
                      "legend": {"orient": "none", "legendX": 7, "legendY": 3.5, "symbolType": "stroke", "symbolSize": 280, "symbolStrokeWidth": 2.5, "clipHeight": 13.3, "rowPadding": 0, "labelOffset": 5, "labelFontWeight": {"expr": "indexof(datum.label, 'WT') >= 0 ? 'bold' : 'normal'"}, "labelColor": {"expr": "indexof(datum.label, 'WT') >= 0 ? '#000000' : '#3aae4c'"}}}
                  }
                },
                {
                  "data": {"name": "aO"},
                  "mark": {"type": "line", "strokeWidth": 1},
                  "encoding": {
                    "x": {"field": "t", "type": "quantitative"},
                    "y": {"field": "v", "type": "quantitative", "scale": {"domain": [0, 0.713], "nice": false}, "axis": {"orient": "right", "values": [0, 0.05, 0.1, 0.15, 0.2, 0.25, 0.3, 0.35, 0.4, 0.45, 0.5, 0.55, 0.6, 0.65, 0.7], "labelExpr": "round(datum.value * 100) % 10 == 0 ? format(datum.value, '.2f') : ''", "title": "OD"}},
                    "color": {"field": "s", "type": "nominal"}
                  }
                }
              ],
              "resolve": {"scale": {"y": "independent"}}
            }
          ]
        },
        {
          "title": {"text": "C", "anchor": "start", "frame": "bounds", "fontSize": 14, "fontWeight": "bold", "offset": -9, "dx": -4},
          "resolve": {"scale": {"color": "independent"}, "legend": {"color": "independent"}},
          "vconcat": [
            {
              "width": 233, "height": 239,
              "title": {"text": "comCDE_luc expression", "dx": 10},
              "layer": [
                {
                  "data": {"name": "cR"},
                  "mark": {"type": "line", "strokeWidth": 3.5, "strokeJoin": "round"},
                  "encoding": {
                    "x": {"field": "t", "type": "quantitative", "scale": {"domain": [0, 500], "nice": false}, "axis": {"values": [0, 100, 200, 300, 400, 500], "title": "time (min)"}},
                    "y": {"field": "v", "type": "quantitative", "scale": {"domain": [0, 1200000], "nice": false}, "axis": {"values": [0, 200000, 400000, 600000, 800000, 1000000, 1200000], "format": "d", "title": "RLU/OD"}},
                    "color": {"field": "s", "type": "nominal", "scale": {"domain": ["RLU/OD  parS(-1.6)ₘᵤₜ C", "RLU/OD  parS(-1.6)ₘᵤₜ NC", "OD  parS(-1.6)ₘᵤₜ C", "OD  parS(-1.6)ₘᵤₜ NC"], "range": ["#2ea7e0", "#ee6f2d", "#2ea7e0", "#ee6f2d"]},
                      "legend": {"orient": "none", "legendX": 7, "legendY": 4.5, "symbolType": "stroke", "symbolSize": 280, "symbolStrokeWidth": 2.5, "clipHeight": 15, "rowPadding": 0, "labelOffset": 5, "labelFontWeight": "normal", "labelColor": {"expr": "indexof(datum.label, 'NC') >= 0 ? '#ee6f2d' : '#2ea7e0'"}}}
                  }
                },
                {
                  "data": {"name": "cO"},
                  "mark": {"type": "line", "strokeWidth": 1},
                  "encoding": {
                    "x": {"field": "t", "type": "quantitative"},
                    "y": {"field": "v", "type": "quantitative", "scale": {"domain": [0, 0.713], "nice": false}, "axis": {"orient": "right", "values": [0, 0.05, 0.1, 0.15, 0.2, 0.25, 0.3, 0.35, 0.4, 0.45, 0.5, 0.55, 0.6, 0.65, 0.7], "labelExpr": "round(datum.value * 100) % 10 == 0 ? format(datum.value, '.2f') : ''", "title": "OD"}},
                    "color": {"field": "s", "type": "nominal"}
                  }
                }
              ],
              "resolve": {"scale": {"y": "independent"}}
            }
          ]
        }
      ],
      "spacing": 1
    },
    {
      "resolve": {"scale": {"color": "independent", "stroke": "independent", "fill": "independent"}, "legend": {"color": "independent", "stroke": "independent", "fill": "independent"}},
      "hconcat": [
        {
          "title": {"text": "B", "anchor": "start", "frame": "bounds", "fontSize": 14, "fontWeight": "bold", "offset": -1, "dx": -21},
          "resolve": {"scale": {"stroke": "independent", "fill": "independent"}, "legend": {"stroke": "independent", "fill": "independent"}},
          "vconcat": [
            {
              "width": 253, "height": 179,
              "title": {"text": "comCDE_luc expression", "offset": -3},
              "data": {"name": "b"},
              "mark": {"type": "point", "shape": "circle", "size": 26, "strokeWidth": 1.2, "opacity": 1},
              "encoding": {
                "x": {"field": "od", "type": "quantitative", "scale": {"domain": [0, 0.3], "nice": false}, "axis": {"values": [0, 0.05, 0.1, 0.15, 0.2, 0.25, 0.3], "labelExpr": "datum.value == 0 ? '0' : format(datum.value, '.2f')", "title": "OD"}},
                "y": {"field": "v", "type": "quantitative", "scale": {"domain": [0, 1000000], "nice": false}, "axis": {"values": [0, 200000, 400000, 600000, 800000, 1000000], "format": "d", "title": "RLU/OD"}},
                "stroke": {"field": "s", "type": "nominal", "scale": {"domain": ["WT", "parS(-1.6)ₘᵤₜ"], "range": ["#000000", "#3aae4c"]},
                  "legend": {"orient": "top-right", "offset": 12, "symbolSize": 30, "clipHeight": 16, "rowPadding": 0, "labelOffset": 6, "labelFontWeight": "bold", "labelColor": {"expr": "datum.label == 'WT' ? '#000000' : '#3aae4c'"}}},
                "fill": {"field": "s", "type": "nominal", "scale": {"domain": ["WT", "parS(-1.6)ₘᵤₜ"], "range": ["transparent", "#3aae4c"]}}
              }
            }
          ]
        },
        {
          "title": {"text": "D", "anchor": "start", "frame": "bounds", "fontSize": 14, "fontWeight": "bold", "offset": -1, "dx": -19},
          "resolve": {"scale": {"stroke": "independent", "fill": "independent"}, "legend": {"stroke": "independent", "fill": "independent"}},
          "vconcat": [
            {
              "width": 246, "height": 179,
              "title": {"text": "comCDE_luc expression", "offset": -3},
              "data": {"name": "d"},
              "mark": {"type": "point", "shape": "circle", "size": 26, "strokeWidth": 1.2, "opacity": 1},
              "encoding": {
                "x": {"field": "od", "type": "quantitative", "scale": {"domain": [0, 0.3], "nice": false}, "axis": {"values": [0, 0.05, 0.1, 0.15, 0.2, 0.25, 0.3], "labelExpr": "datum.value == 0 ? '0' : format(datum.value, '.2f')", "title": "OD"}},
                "y": {"field": "v", "type": "quantitative", "scale": {"domain": [0, 1000000], "nice": false}, "axis": {"values": [0, 200000, 400000, 600000, 800000, 1000000], "format": "d", "title": "RLU/OD"}},
                "stroke": {"field": "s", "type": "nominal", "scale": {"domain": ["parS(-1.6)ₘᵤₜ C", "parS(-1.6)ₘᵤₜ NC"], "range": ["#2ea7e0", "#ee6f2d"]},
                  "legend": {"orient": "top-right", "offset": 12, "symbolSize": 30, "clipHeight": 15, "rowPadding": 0, "labelOffset": 6, "labelFontWeight": "bold", "labelColor": {"expr": "indexof(datum.label, 'NC') >= 0 ? '#ee6f2d' : '#2ea7e0'"}}},
                "fill": {"field": "s", "type": "nominal", "scale": {"domain": ["parS(-1.6)ₘᵤₜ C", "parS(-1.6)ₘᵤₜ NC"], "range": ["transparent", "#ee6f2d"]}}
              }
            }
          ]
        }
      ],
      "spacing": 26
    }
  ],
  "spacing": 10
}
